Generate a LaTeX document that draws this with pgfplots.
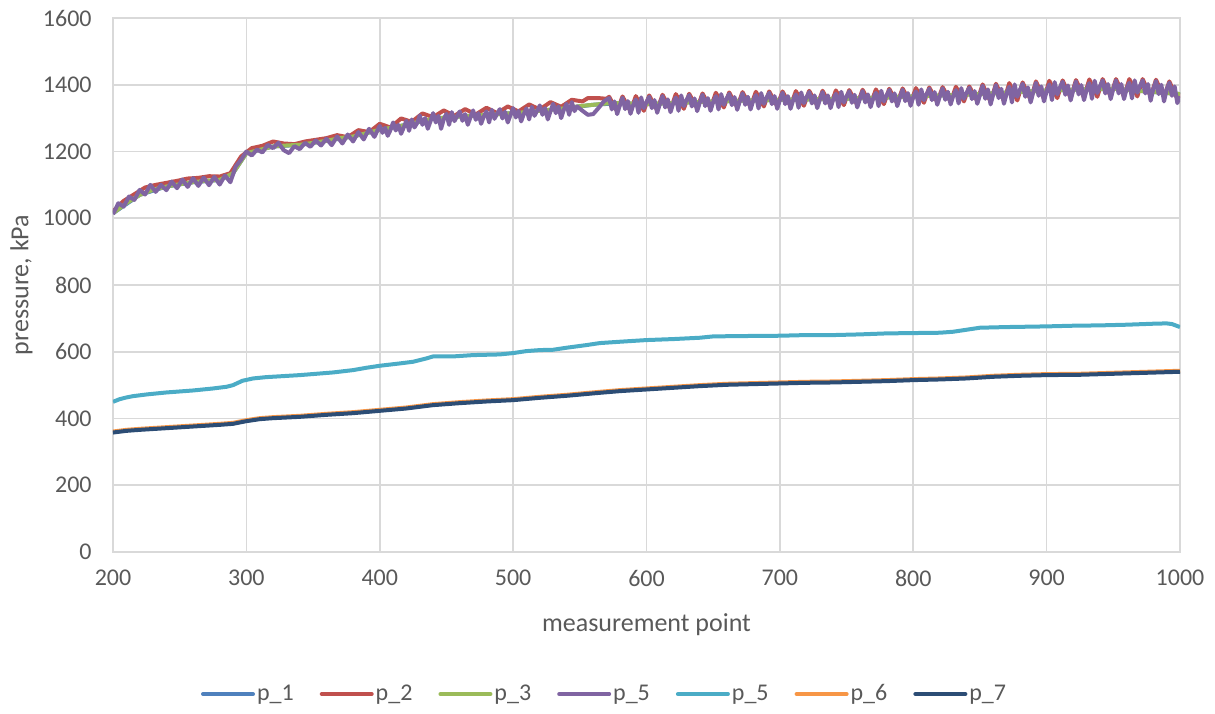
\documentclass[border=0pt]{standalone}
\usepackage{fontspec}
\setmainfont{Carlito}
\usepackage{pgfplots}
\pgfplotsset{compat=1.18}
\definecolor{cA}{HTML}{4F81BD}
\definecolor{cB}{HTML}{C0504D}
\definecolor{cC}{HTML}{9BBB59}
\definecolor{cD}{HTML}{8064A2}
\definecolor{cE}{HTML}{4BACC6}
\definecolor{cF}{HTML}{F79646}
\definecolor{cG}{HTML}{2C4D75}
\definecolor{txt}{HTML}{595959}
\definecolor{gridc}{HTML}{D9D9D9}
\begin{document}
\begin{tikzpicture}
\begin{axis}[
 scale only axis, width=533.5pt, height=267pt,
 xmin=200, xmax=1000, ymin=0, ymax=1600,
 xtick={200,300,...,1000}, ytick={0,200,...,1600},
 grid=major, major grid style={draw=gridc, line width=0.8pt},
 axis line style={draw=gridc, line width=0.8pt},
 major tick length=0pt,
 tick label style={font=\fontsize{12}{14}\selectfont, text=txt},
 /pgf/number format/assume math mode=true,
 /pgf/number format/1000 sep={},
 yticklabel style={anchor=east, inner sep=0pt, xshift=-10.5pt},
 xticklabel style={anchor=north, inner sep=0pt, yshift=-9pt},
 xlabel={measurement point}, ylabel={pressure, kPa},
 label style={font=\fontsize{13}{15}\selectfont, text=txt},
 xlabel style={at={(axis description cs:0.5,-0.1142)}, anchor=north, inner sep=0pt},
 ylabel style={at={(axis description cs:-0.075,0.5)}, anchor=south, inner sep=0pt},
 legend style={at={(axis description cs:0.4607,-0.266)}, anchor=center, draw=none, fill=none,
   legend columns=-1, font=\fontsize{12}{14}\selectfont,
   nodes={inner sep=1pt, text=txt},
   /tikz/every even column/.append style={column sep=12pt}},
 legend image code/.code={\draw[#1, line cap=round] (1pt,0pt) -- (26pt,0pt);},
 every axis plot/.append style={line width=2pt, line join=round},
]
% p_1 (hidden beneath the others)
\addplot[cA] coordinates {(200,1015)(220,1070)(240,1095)(260,1108)(280,1115)(290,1135)(300,1195)(320,1215)(340,1220)(360,1232)(380,1245)(400,1265)(420,1280)(440,1298)(460,1305)(480,1310)(500,1315)(520,1322)(540,1330)(560,1340)(580,1345)(600,1342)(650,1350)(700,1355)(750,1358)(800,1365)(850,1372)(900,1383)(950,1388)(1000,1372)};
\addlegendentry{p\_1}
% p_2
\addplot[cB] coordinates {(200,1020)(208,1052)(216,1072)(224,1092)(232,1100)(240,1106)(248,1112)(256,1119)(264,1121)(272,1126)(280,1125)(288,1135)(296,1185)(304,1210)(312,1217)(320,1230)(328,1224)(336,1222)(344,1230)(352,1235)(360,1240)(368,1249)(376,1243)(384,1264)(392,1258)(400,1283)(408,1272)(416,1299)(424,1289)(432,1314)(440,1303)(448,1323)(456,1307)(464,1327)(472,1311)(480,1331)(488,1315)(496,1335)(504,1320)(512,1341)(520,1326)(528,1348)(536,1334)(544,1355)(552,1350)(556,1360)(564,1360)(570,1358)
(572,1364)(578,1320)(582,1365)(588,1321)(592,1366)(598,1322)(602,1368)(608,1324)(612,1370)(618,1326)(622,1372)(628,1328)(632,1373)(638,1329)(642,1374)(648,1330)(652,1376)(658,1332)(662,1377)(668,1333)(672,1378)(678,1334)(682,1379)(688,1335)(692,1380)(698,1336)(702,1380)(708,1336)(712,1381)(718,1337)(722,1382)(728,1338)(732,1382)(738,1338)(742,1383)(748,1339)(752,1384)(758,1340)(762,1385)(768,1341)(772,1386)(778,1342)(782,1388)(788,1344)(792,1389)(798,1345)(802,1390)(808,1346)(812,1392)(818,1348)(822,1393)(828,1349)(832,1394)(838,1350)(842,1395)(848,1351)(852,1401)(858,1349)(862,1403)(868,1351)(872,1405)(878,1353)(882,1407)(888,1355)(892,1410)(898,1358)(902,1412)(908,1360)(912,1413)(918,1361)(922,1414)(928,1362)(932,1416)(938,1364)(942,1417)(948,1365)(952,1417)(958,1365)(962,1417)(968,1365)(972,1417)(978,1365)(982,1415)(988,1363)(992,1410)(998,1358)(1000,1375)};
\addlegendentry{p\_2}
% p_3
\addplot[cC] coordinates {(200,1015)(210,1045)(220,1070)(230,1085)(240,1095)(250,1102)(260,1108)(270,1112)(280,1115)(290,1135)(300,1195)(310,1205)(320,1215)(330,1218)(340,1220)(350,1226)(360,1232)(370,1240)(380,1245)(390,1255)(400,1265)(410,1272)(420,1280)(430,1290)(440,1298)(450,1302)(460,1305)(470,1307)(480,1310)(490,1312)(500,1315)(510,1318)(520,1322)(530,1326)(540,1330)(550,1336)(560,1340)(570,1344)(580,1345)(600,1342)(650,1350)(700,1355)(750,1358)(800,1365)(850,1372)(900,1383)(950,1388)(1000,1372)};
\addlegendentry{p\_3}
% p_5 (purple)
\addplot[cD] coordinates {(200,1012)(204,1045)(208,1035)(212,1065)(216,1055)(220,1085)(224,1071)(228,1100)(232,1079)(236,1100)(240,1084)(244,1110)(248,1090)(252,1116)(256,1094)(260,1120)(264,1097)(268,1122)(272,1099)(276,1124)(280,1101)(284,1128)(288,1108)(292,1155)(296,1175)(300,1200)(304,1188)(308,1206)(312,1197)(316,1220)(320,1210)(324,1226)(328,1204)(332,1195)(336,1216)(340,1207)(344,1226)(348,1214)(352,1233)(356,1218)(360,1238)(364,1219)(368,1245)(372,1224)(376,1251)(380,1230)(384,1258)(388,1236)(392,1268)(396,1244)
(400,1277)(402,1256)(404,1271)(406,1247)(408,1264)
(410,1287)(412,1263)(414,1280)(416,1253)(418,1272)
(420,1292)(422,1262)(424,1296)(426,1272)(428,1285)
(430,1308)(432,1280)(434,1300)(436,1268)(438,1290)
(440,1315)(442,1287)(444,1307)(446,1268)(448,1297)
(450,1313)(452,1280)(454,1318)(456,1291)(458,1306)
(460,1320)(462,1292)(464,1312)(466,1280)(468,1302)
(470,1323)(472,1295)(474,1315)(476,1283)(478,1305)
(480,1320)(482,1287)(484,1325)(486,1298)(488,1313)
(490,1327)(492,1299)(494,1319)(496,1287)(498,1309)
(500,1330)(502,1302)(504,1322)(506,1290)(508,1312)
(510,1329)(512,1296)(514,1334)(516,1307)(518,1322)
(520,1338)(522,1310)(524,1330)(526,1296)(528,1320)
(530,1343)(532,1315)(534,1335)(536,1300)(538,1325)
(540,1343)(542,1310)(544,1348)(546,1321)
(548,1335)(552,1322)(556,1310)(560,1312)(564,1330)(568,1350)
(572,1360)(574,1326)(576,1350)(578,1312)(580,1338)
(582,1361)(584,1327)(586,1351)(588,1313)(590,1339)
(592,1356)(594,1316)(596,1362)(598,1330)(600,1348)
(602,1364)(604,1330)(606,1354)(608,1316)(610,1342)
(612,1366)(614,1332)(616,1356)(618,1318)(620,1344)
(622,1362)(624,1322)(626,1368)(628,1336)(630,1354)
(632,1369)(634,1335)(636,1359)(638,1321)(640,1347)
(642,1370)(644,1336)(646,1360)(648,1322)(650,1348)
(652,1366)(654,1326)(656,1372)(658,1340)(660,1358)
(662,1373)(664,1339)(666,1363)(668,1325)(670,1351)
(672,1374)(674,1340)(676,1364)(678,1326)(680,1352)
(682,1369)(684,1329)(686,1375)(688,1343)(690,1361)
(692,1376)(694,1342)(696,1366)(698,1328)(700,1354)
(702,1376)(704,1342)(706,1366)(708,1328)(710,1354)
(712,1371)(714,1331)(716,1377)(718,1345)(720,1363)
(722,1378)(724,1344)(726,1368)(728,1330)(730,1356)
(732,1378)(734,1344)(736,1368)(738,1330)(740,1356)
(742,1373)(744,1333)(746,1379)(748,1347)(750,1365)
(752,1380)(754,1346)(756,1370)(758,1332)(760,1358)
(762,1381)(764,1347)(766,1371)(768,1333)(770,1359)
(772,1376)(774,1336)(776,1382)(778,1350)(780,1368)
(782,1384)(784,1350)(786,1374)(788,1336)(790,1362)
(792,1385)(794,1351)(796,1375)(798,1337)(800,1363)
(802,1380)(804,1340)(806,1386)(808,1354)(810,1372)
(812,1388)(814,1354)(816,1378)(818,1340)(820,1366)
(822,1389)(824,1355)(826,1379)(828,1341)(830,1367)
(832,1384)(834,1344)(836,1390)(838,1358)(840,1376)
(842,1391)(844,1357)(846,1381)(848,1343)(850,1369)
(852,1397)(854,1358)(856,1386)(858,1341)(860,1372)
(862,1399)(864,1360)(866,1388)(868,1343)(870,1374)
(872,1394)(874,1347)(876,1401)(878,1364)(880,1385)
(882,1403)(884,1364)(886,1392)(888,1347)(890,1378)
(892,1406)(894,1367)(896,1395)(898,1350)(900,1381)
(902,1401)(904,1354)(906,1408)(908,1371)(910,1392)
(912,1409)(914,1370)(916,1398)(918,1353)(920,1384)
(922,1410)(924,1371)(926,1399)(928,1354)(930,1385)
(932,1405)(934,1358)(936,1412)(938,1375)(940,1396)
(942,1413)(944,1374)(946,1402)(948,1357)(950,1388)
(952,1413)(954,1374)(956,1402)(958,1357)(960,1388)
(962,1406)(964,1359)(966,1413)(968,1376)(970,1397)
(972,1413)(974,1374)(976,1402)(978,1352)(980,1388)
(982,1411)(984,1372)(986,1400)(988,1350)(990,1386)
(992,1406)(994,1367)(996,1395)(998,1345)(1000,1365)};
\addlegendentry{p\_5}
% p_5 (cyan)
\addplot[cE] coordinates {(200,450)(205,458)(210,463)(215,467)(225,472)(240,478)(260,484)(275,490)(285,495)(290,500)(297,513)(305,520)(315,524)(340,530)(365,538)(380,545)(390,552)(400,558)(415,565)(425,570)(435,580)(440,586)(455,586)(470,590)(490,592)(500,596)(510,602)(520,605)(530,606)(540,612)(555,620)(565,626)(580,630)(600,635)(620,638)(640,642)(650,646)(670,647)(700,648)(720,650)(740,650)(760,652)(780,655)(800,656)(820,657)(830,660)(840,666)(850,672)(870,674)(900,676)(920,678)(940,679)(960,681)(980,684)(990,685)(994,683)(1000,674)};
\addlegendentry{p\_5}
% p_6
\addplot[cF] coordinates {(200,361)(210,366)(220,369)(240,374)(260,379)(280,384)(290,387)(300,395)(310,401)(320,404)(340,408)(360,414)(380,419)(400,426)(420,433)(440,443)(460,449)(480,454)(500,458)(520,465)(540,471)(565,480)(580,485)(600,490)(620,495)(640,500)(660,504)(680,506)(700,508)(720,510)(740,511)(760,513)(780,515)(800,518)(820,520)(840,523)(860,528)(880,531)(900,533)(925,534)(950,537)(975,540)(1000,543)};
\addlegendentry{p\_6}
% p_7
\addplot[cG] coordinates {(200,358)(210,363)(220,366)(240,371)(260,376)(280,381)(290,384)(300,392)(310,398)(320,401)(340,405)(360,411)(380,416)(400,423)(420,430)(440,440)(460,446)(480,451)(500,455)(520,462)(540,468)(565,477)(580,482)(600,487)(620,492)(640,497)(660,501)(680,503)(700,505)(720,507)(740,508)(760,510)(780,512)(800,515)(820,517)(840,520)(860,525)(880,528)(900,530)(925,531)(950,534)(975,537)(1000,540)};
\addlegendentry{p\_7}
\end{axis}
\pgfresetboundingbox
\useasboundingbox ([shift={(-56.5pt,-80.5pt)}]current axis.south west) rectangle ([shift={(17.5pt,9pt)}]current axis.north east);
\end{tikzpicture}
\end{document}
